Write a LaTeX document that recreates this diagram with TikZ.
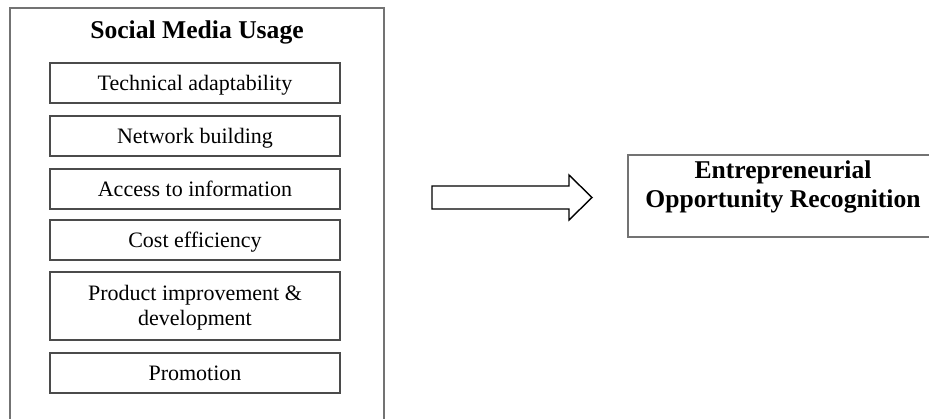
\documentclass[tikz,border=0pt]{standalone}
\usepackage{fontspec}
\setmainfont{Liberation Serif}
\definecolor{outerc}{RGB}{115,115,115}
\definecolor{innerc}{RGB}{75,75,75}
\begin{document}
\begin{tikzpicture}[x=1pt,y=-1pt,
  outerbox/.style={draw=outerc,line width=1.4pt,inner sep=0pt},
  ibox/.style={draw=innerc,line width=1.3pt,inner sep=0pt,minimum width=290pt,
    minimum height=40pt,font=\fontsize{22}{26}\selectfont,text height=15pt,text depth=0pt},
  itext/.style={inner sep=0pt,anchor=base,font=\fontsize{22}{26}\selectfont},
  btext/.style={inner sep=0pt,anchor=base,font=\fontsize{25.6}{30}\selectfont\bfseries},
  blockarrow/.style={draw=black,line width=1.4pt,line join=miter}]
\useasboundingbox (0,0) rectangle (929,418);
\clip (0,0) rectangle (929,418);
% outer container (bottom edge runs off the picture)
\node[outerbox,minimum width=374pt,minimum height=424pt] (outer) at (197,220) {};
\node[btext] (title) at (197,38) {Social Media Usage};
\node[ibox] (b1) at (195,83) {Technical adaptability};
\node[ibox] (b2) at (195,136) {Network building};
\node[ibox] (b3) at (195,189) {Access to information};
\node[ibox] (b4) at (195,240) {Cost efficiency};
\node[ibox,minimum height=68pt] (b5) at (195,306) {};
\node[itext] (b5a) at (195,300) {Product improvement \&};
\node[itext] (b5b) at (195,325) {development};
\node[ibox] (b6) at (195,373) {Promotion};
% block arrow
\draw[blockarrow] (432,186) -- (569,186) -- (569,175) -- (592,197.5) -- (569,220) -- (569,209) -- (432,209) -- cycle;
% outcome box (right edge runs off the picture)
\node[draw=outerc,line width=1.3pt,inner sep=0pt,minimum width=310pt,minimum height=82pt] (eor) at (783,196) {};
\node[btext] (eor1) at (783,178) {Entrepreneurial};
\node[btext] (eor2) at (783,207) {Opportunity Recognition};
\end{tikzpicture}
\end{document}
